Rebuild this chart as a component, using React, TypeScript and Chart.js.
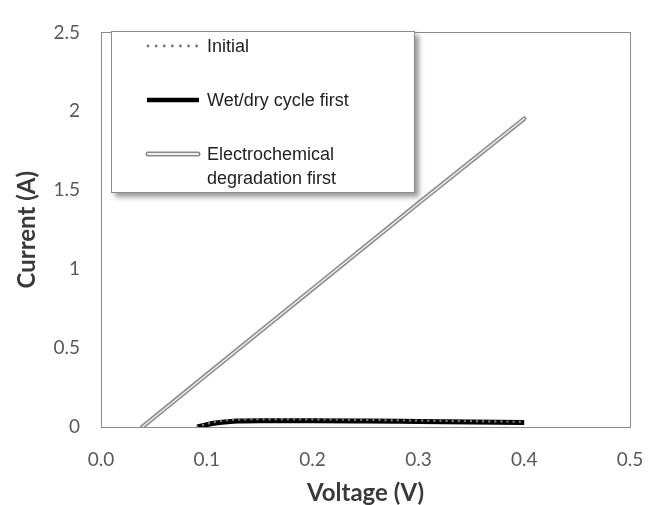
import { useEffect, useRef } from "react";
import { Chart, registerables } from "chart.js";

Chart.register(...registerables);

// Voltage (V) / Current (A)
const voltageInitial = [0.091, 0.1, 0.11, 0.12, 0.13, 0.15, 0.2, 0.25, 0.3, 0.35, 0.4];
const currentInitial = [0, 0.02, 0.035, 0.043, 0.047, 0.049, 0.048, 0.045, 0.041, 0.037, 0.033];

const voltageWetDry = [0.091, 0.1, 0.11, 0.12, 0.13, 0.15, 0.2, 0.25, 0.3, 0.35, 0.4];
const currentWetDry = [0, 0.015, 0.027, 0.034, 0.038, 0.04, 0.04, 0.038, 0.035, 0.032, 0.029];

const voltageElectro = [0.039, 0.1, 0.2, 0.3, 0.4];
const currentElectro = [0, 0.332, 0.875, 1.417, 1.953];

const xTicks = [0, 0.1, 0.2, 0.3, 0.4, 0.5];
const yTicks = [0, 0.5, 1, 1.5, 2, 2.5];

const seriesLabels = ["Initial", "Wet/dry cycle first", "Electrochemical degradation first"];

const toPoints = (xs: number[], ys: number[]) => xs.map((x, i) => ({ x, y: ys[i] }));

const plotBorder = {
  id: "plotBorder",
  beforeDatasetsDraw(chart: any) {
    const { ctx, chartArea } = chart;
    ctx.save();
    ctx.strokeStyle = "#8c8c8c";
    ctx.lineWidth = 1;
    ctx.strokeRect(
      Math.round(chartArea.left) + 0.5,
      Math.round(chartArea.top) + 0.5,
      Math.round(chartArea.right - chartArea.left),
      Math.round(chartArea.bottom - chartArea.top)
    );
    ctx.restore();
  },
};

export default function App() {
  const ref = useRef<HTMLCanvasElement>(null);

  useEffect(() => {
    const chart = new Chart(ref.current!, {
      type: "line",
      data: {
        datasets: [
          {
            label: seriesLabels[2],
            data: toPoints(voltageElectro, currentElectro),
            borderColor: "#8a8a8a",
            borderWidth: 4.5,
            borderCapStyle: "round",
            pointRadius: 0,
            tension: 0,
            order: 4,
          },
          {
            label: seriesLabels[2] + " (inner)",
            data: toPoints(voltageElectro, currentElectro),
            borderColor: "#e6e6e6",
            borderWidth: 1.6,
            borderCapStyle: "round",
            pointRadius: 0,
            tension: 0,
            order: 3,
          },
          {
            label: seriesLabels[1],
            data: toPoints(voltageWetDry, currentWetDry),
            borderColor: "#000000",
            borderWidth: 5,
            pointRadius: 0,
            cubicInterpolationMode: "monotone",
            order: 2,
          },
          {
            label: seriesLabels[0],
            data: toPoints(voltageInitial, currentInitial),
            borderColor: "#7a7a7a",
            borderWidth: 2.4,
            borderDash: [0.1, 6],
            borderCapStyle: "round",
            pointRadius: 0,
            cubicInterpolationMode: "monotone",
            order: 1,
          },
        ],
      },
      options: {
        animation: false,
        responsive: false,
        devicePixelRatio: 1,
        layout: { padding: { left: 0, top: 20, right: 25, bottom: 0 } },
        plugins: { legend: { display: false }, tooltip: { enabled: false } },
        scales: {
          x: {
            type: "linear",
            min: 0,
            max: 0.5,
            afterFit: (s: any) => {
              s.height = 78;
              s.paddingRight = 25;
              s.paddingLeft = 0;
            },
            afterBuildTicks: (s: any) => {
              s.ticks = xTicks.map((v) => ({ value: v }));
            },
            grid: { display: false, drawTicks: false },
            border: { display: false },
            ticks: {
              padding: 21,
              color: "#595959",
              font: { family: "Lato", size: 19 },
              callback: (v: any) => Number(v).toFixed(1),
              maxRotation: 0,
            },
            title: {
              display: true,
              text: "Voltage (V)",
              color: "#3a3a3a",
              font: { family: "Lato", size: 24, weight: "bold", lineHeight: 1 },
              padding: { top: 0, bottom: 0 },
            },
          },
          y: {
            type: "linear",
            min: 0,
            max: 2.5,
            afterFit: (s: any) => {
              s.width = 101;
            },
            afterBuildTicks: (s: any) => {
              s.ticks = yTicks.map((v) => ({ value: v }));
            },
            grid: { display: false, drawTicks: false },
            border: { display: false },
            ticks: {
              padding: 21,
              color: "#595959",
              font: { family: "Lato", size: 19 },
              callback: (v: any) => String(v),
            },
            title: {
              display: true,
              text: "Current (A)",
              color: "#3a3a3a",
              font: { family: "Lato", size: 24, weight: "bold", lineHeight: 1 },
              padding: { top: 15, bottom: 0 },
            },
          },
        },
      },
      plugins: [plotBorder],
    } as any);
    return () => chart.destroy();
  }, []);

  const legendFont: any = {
    fontFamily: "'Liberation Sans', Arial, sans-serif",
    fontSize: 18,
    color: "#222",
    position: "absolute",
    left: 95,
    whiteSpace: "nowrap",
    lineHeight: "24px",
  };

  return (
    <div style={{ position: "fixed", left: 0, top: 0, width: 655, height: 505, background: "#fff" }}>
      <canvas ref={ref} width={655} height={505} style={{ width: 655, height: 505, display: "block" }} />
      <div
        style={{
          position: "absolute",
          left: 111,
          top: 31,
          width: 304,
          height: 162,
          boxSizing: "border-box",
          border: "1px solid #8c8c8c",
          background: "#fff",
          boxShadow: "4px 4px 5px rgba(0,0,0,0.4)",
        }}
      >
        <svg style={{ position: "absolute", left: 33, top: 4 }} width={56} height={160}>
          <line x1={3} y1={10} x2={52} y2={10} stroke="#7a7a7a" strokeWidth={2.8} strokeDasharray="0.1 8" strokeLinecap="round" />
          <line x1={2} y1={64} x2={54} y2={64} stroke="#000" strokeWidth={4.5} />
          <line x1={3} y1={118} x2={53} y2={118} stroke="#8a8a8a" strokeWidth={5} strokeLinecap="round" />
          <line x1={3} y1={118} x2={53} y2={118} stroke="#f0f0f0" strokeWidth={1.8} strokeLinecap="round" />
        </svg>
        <div style={{ ...legendFont, top: 2 }}>{seriesLabels[0]}</div>
        <div style={{ ...legendFont, top: 56 }}>{seriesLabels[1]}</div>
        <div style={{ ...legendFont, top: 110 }}>
          Electrochemical
          <br />
          degradation first
        </div>
      </div>
    </div>
  );
}
